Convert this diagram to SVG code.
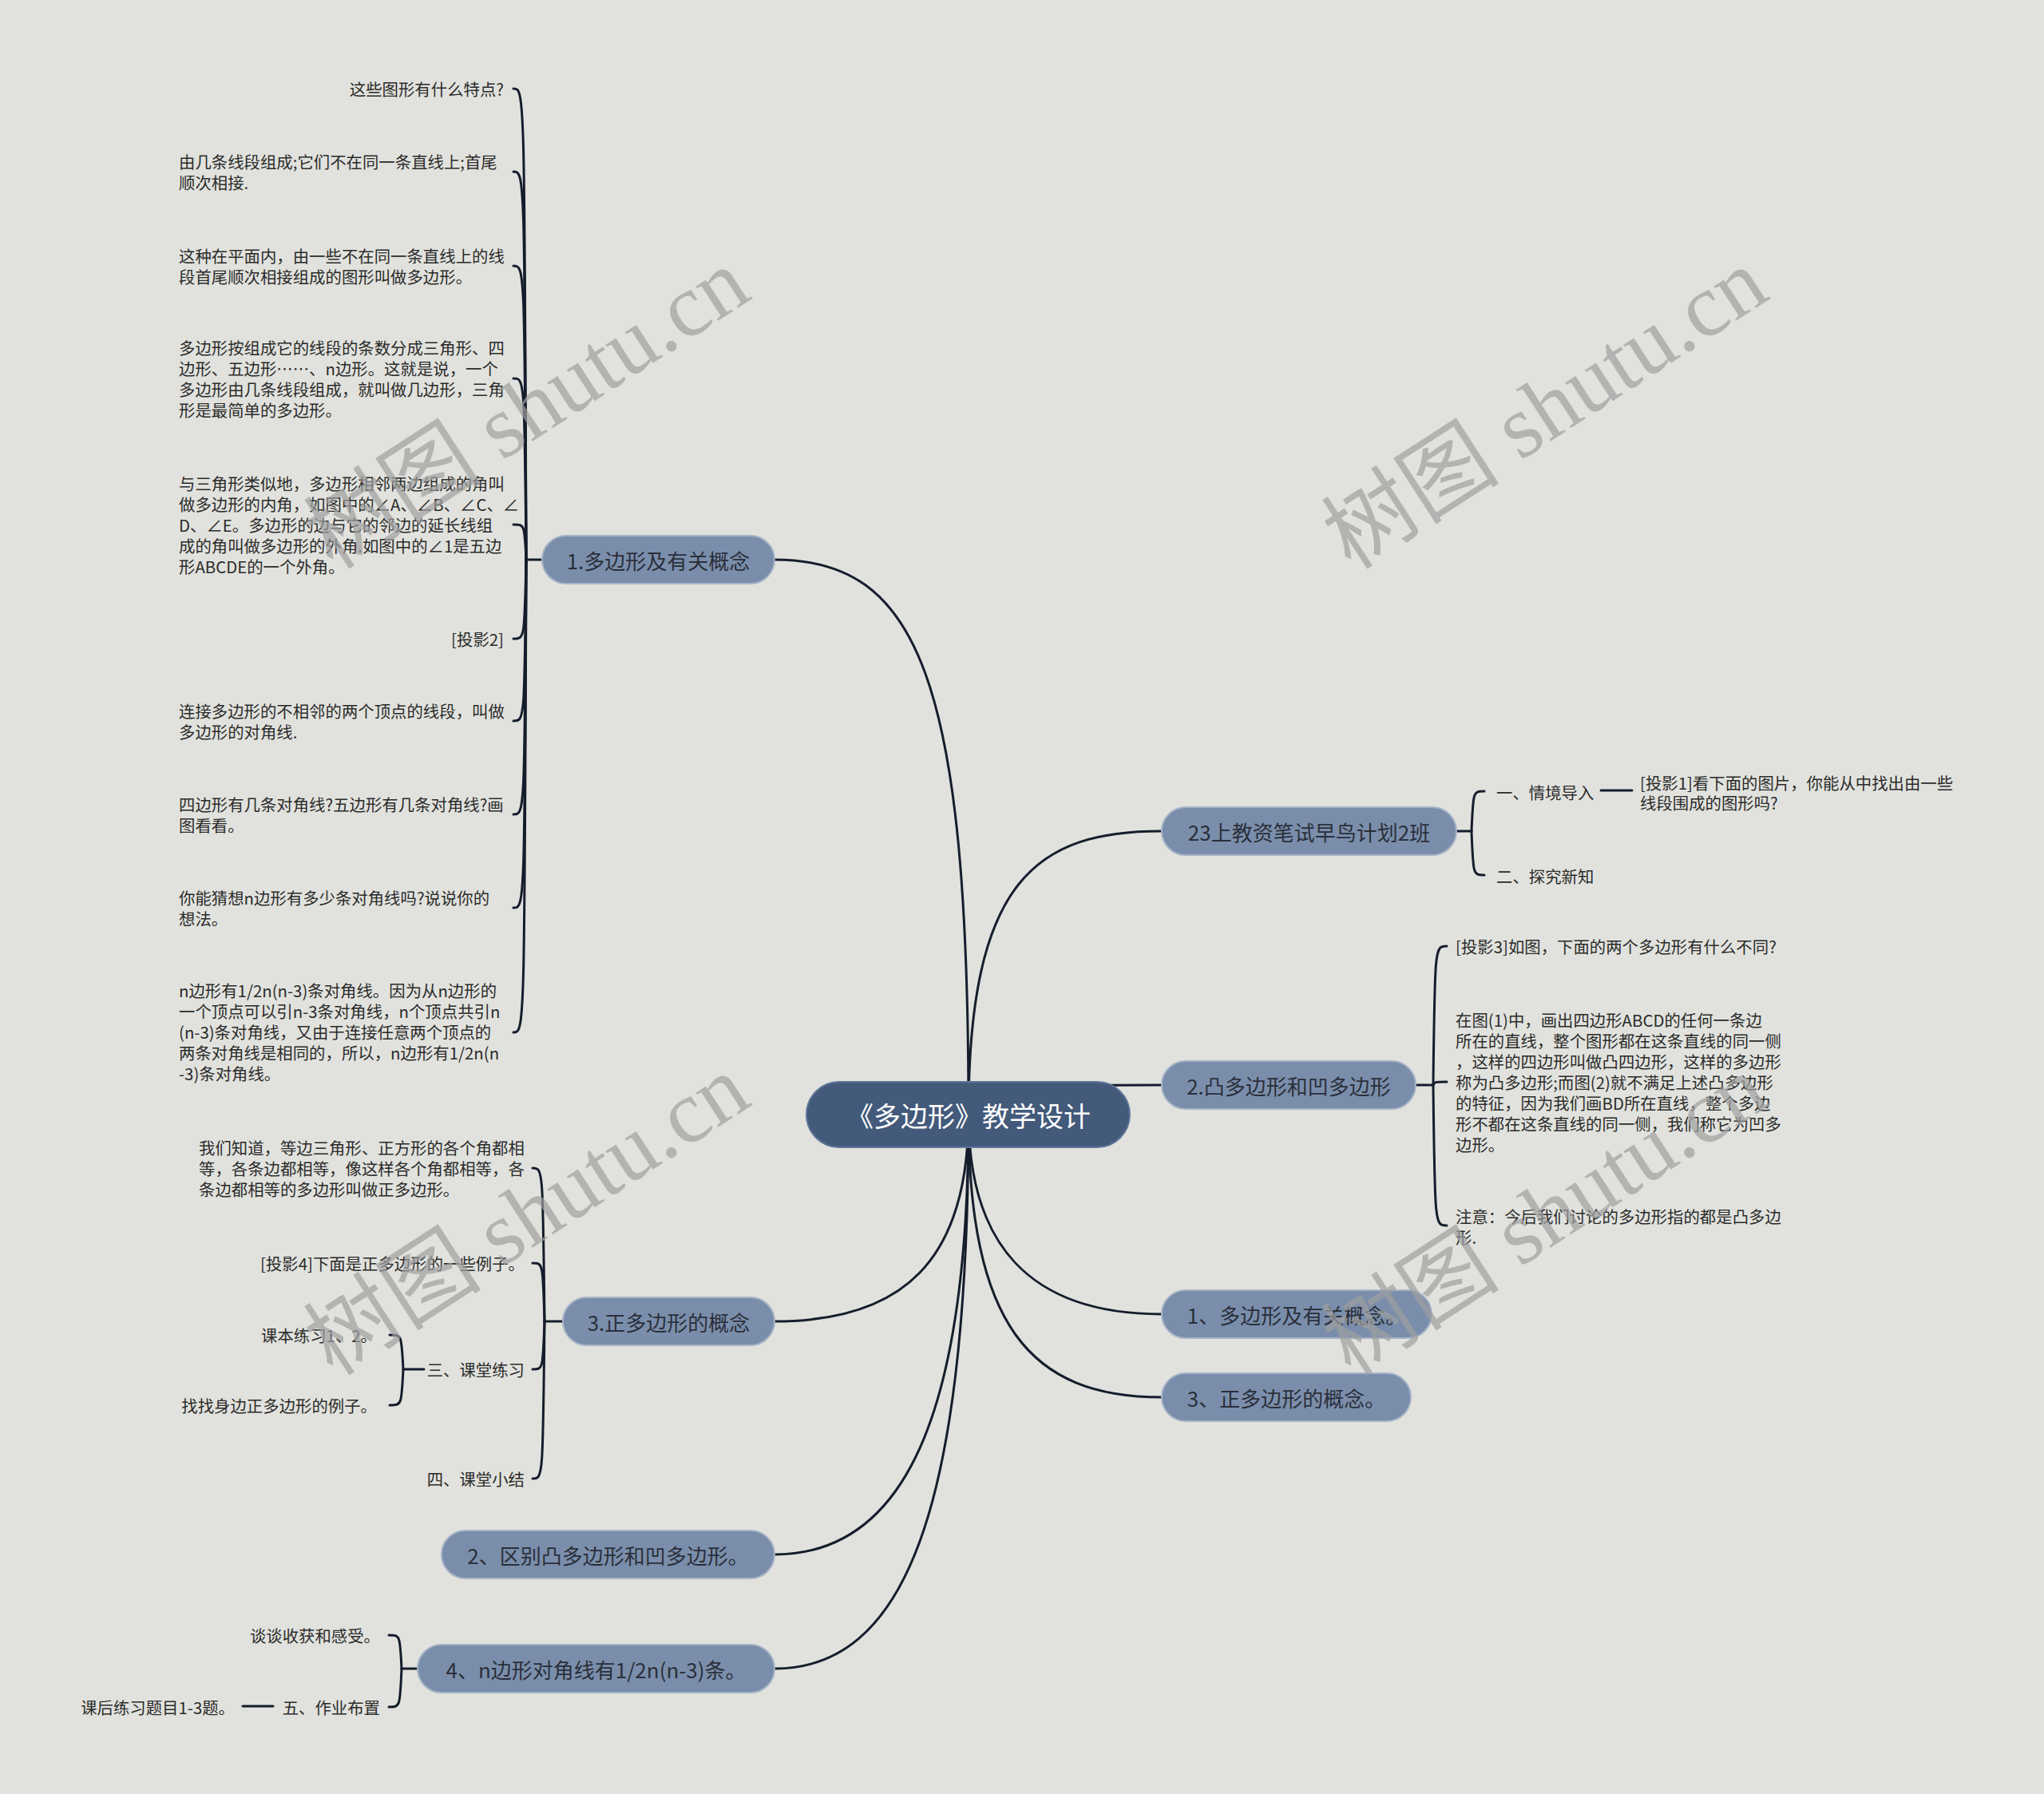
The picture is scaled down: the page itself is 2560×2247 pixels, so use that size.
<svg xmlns="http://www.w3.org/2000/svg" width="2560" height="2247" viewBox="0 0 2560 2247">
<style>
text{font-family:"Noto Sans CJK SC","Noto Sans",sans-serif;dominant-baseline:central}
.ln{fill:none;stroke:#151d2c;stroke-width:3;stroke-linecap:round}
.n1 rect{fill:#7a8eab;stroke:#a6b3c7;stroke-width:2}
.n1 text{font-size:26px;fill:#2a2f3a;text-anchor:middle}
.root rect{fill:#435a7a;stroke:#60759a;stroke-width:2}
.root text{font-size:34px;fill:#ffffff;text-anchor:middle}
.ct{font-size:20.4px;fill:#2b2b2b}
.r{text-anchor:end}
.wm{font-family:"Liberation Serif","Noto Sans CJK SC",serif;font-size:112px;fill:#a0a0a0;opacity:0.7;text-anchor:middle}
</style>
<rect width="2560" height="2247" fill="#e1e2dd"/>
<g id="connectors">
<path class="ln" d="M1213,1396 C1213,850 1150,701 970,701"/>
<path class="ln" d="M1213,1396 C1213,1100 1300,1041 1455,1041"/>
<path class="ln" d="M1213,1396 C1213,1359 1300,1359 1455,1359"/>
<path class="ln" d="M1213,1396 C1213,1560 1290,1646 1455,1646"/>
<path class="ln" d="M1213,1396 C1213,1660 1290,1750 1455,1750"/>
<path class="ln" d="M1213,1396 C1213,1580 1130,1655 970,1655"/>
<path class="ln" d="M1213,1396 C1213,1800 1120,1947 970,1947"/>
<path class="ln" d="M1213,1396 C1213,1900 1130,2090 970,2090"/>
<path class="ln" d="M679,701 L659,701"/>
<path class="ln" d="M659,701 C657,111 657,111 643,111"/>
<path class="ln" d="M659,701 C657,215 657,215 643,215"/>
<path class="ln" d="M659,701 C657,333 657,333 643,333"/>
<path class="ln" d="M659,701 C657,474 657,474 643,474"/>
<path class="ln" d="M659,701 C657,657 657,657 643,657"/>
<path class="ln" d="M659,701 C657,800 657,800 643,800"/>
<path class="ln" d="M659,701 C657,903 657,903 643,903"/>
<path class="ln" d="M659,701 C657,1020 657,1020 643,1020"/>
<path class="ln" d="M659,701 C657,1137 657,1137 643,1137"/>
<path class="ln" d="M659,701 C657,1293 657,1293 643,1293"/>
<path class="ln" d="M705,1655 L682,1655"/>
<path class="ln" d="M682,1655 C680,1463 680,1463 667,1463"/>
<path class="ln" d="M682,1655 C680,1582 680,1582 667,1582"/>
<path class="ln" d="M682,1655 C680,1715 680,1715 667,1715"/>
<path class="ln" d="M682,1655 C680,1852 680,1852 667,1852"/>
<path class="ln" d="M531,1715 L505,1715"/>
<path class="ln" d="M505,1715 C503,1672 503,1672 488,1672"/>
<path class="ln" d="M505,1715 C503,1760 503,1760 488,1760"/>
<path class="ln" d="M523,2090 L503,2090"/>
<path class="ln" d="M503,2090 C501,2048 501,2048 487,2048"/>
<path class="ln" d="M503,2090 C501,2138 501,2138 487,2138"/>
<path class="ln" d="M304,2137 L342,2137"/>
<path class="ln" d="M1824,1041 L1843,1041"/>
<path class="ln" d="M1843,1041 C1845,991 1845,991 1859,991"/>
<path class="ln" d="M1843,1041 C1845,1096 1845,1096 1859,1096"/>
<path class="ln" d="M2005,990 L2044,990"/>
<path class="ln" d="M1773,1359 L1795,1359"/>
<path class="ln" d="M1795,1359 C1797,1185 1797,1185 1812,1185"/>
<path class="ln" d="M1795,1359 C1797,1355 1797,1355 1812,1355"/>
<path class="ln" d="M1795,1359 C1797,1535 1797,1535 1812,1535"/>
</g>
<g id="root" class="root"><rect x="1010" y="1355" width="405" height="82" rx="41"/><text x="1213" y="1396">《多边形》教学设计</text></g>
<g id="n1" class="n1"><rect x="679" y="671" width="291" height="60" rx="30"/><text x="824.5" y="701">1.多边形及有关概念</text></g>
<g id="n2" class="n1"><rect x="1455" y="1011" width="369" height="60" rx="30"/><text x="1639.5" y="1041">23上教资笔试早鸟计划2班</text></g>
<g id="n3" class="n1"><rect x="1455" y="1329" width="318" height="60" rx="30"/><text x="1614" y="1359">2.凸多边形和凹多边形</text></g>
<g id="n4" class="n1"><rect x="1455" y="1616" width="338" height="60" rx="30"/><text x="1624" y="1646">1、多边形及有关概念。</text></g>
<g id="n5" class="n1"><rect x="1455" y="1720" width="312" height="60" rx="30"/><text x="1611" y="1750">3、正多边形的概念。</text></g>
<g id="n6" class="n1"><rect x="705" y="1625" width="265" height="60" rx="30"/><text x="837.5" y="1655">3.正多边形的概念</text></g>
<g id="n7" class="n1"><rect x="553" y="1917" width="417" height="60" rx="30"/><text x="761.5" y="1947">2、区别凸多边形和凹多边形。</text></g>
<g id="n8" class="n1"><rect x="523" y="2060" width="447" height="60" rx="30"/><text x="746.5" y="2090">4、n边形对角线有1/2n(n-3)条。</text></g>
<g id="c1a"><text class="ct r" x="631" y="111">这些图形有什么特点?</text></g>
<g id="c1b"><text class="ct" x="224" y="202">由几条线段组成;它们不在同一条直线上;首尾</text><text class="ct" x="224" y="228">顺次相接.</text></g>
<g id="c1c"><text class="ct" x="224" y="320">这种在平面内，由一些不在同一条直线上的线</text><text class="ct" x="224" y="346">段首尾顺次相接组成的图形叫做多边形。</text></g>
<g id="c1d"><text class="ct" x="224" y="435">多边形按组成它的线段的条数分成三角形、四</text><text class="ct" x="224" y="461">边形、五边形……、n边形。这就是说，一个</text><text class="ct" x="224" y="487">多边形由几条线段组成，就叫做几边形，三角</text><text class="ct" x="224" y="513">形是最简单的多边形。</text></g>
<g id="c1e"><text class="ct" x="224" y="605">与三角形类似地，多边形相邻两边组成的角叫</text><text class="ct" x="224" y="631">做多边形的内角，如图中的∠A、∠B、∠C、∠</text><text class="ct" x="224" y="657">D、∠E。多边形的边与它的邻边的延长线组</text><text class="ct" x="224" y="683">成的角叫做多边形的外角.如图中的∠1是五边</text><text class="ct" x="224" y="709">形ABCDE的一个外角。</text></g>
<g id="c1f"><text class="ct r" x="631" y="800">[投影2]</text></g>
<g id="c1g"><text class="ct" x="224" y="890">连接多边形的不相邻的两个顶点的线段，叫做</text><text class="ct" x="224" y="916">多边形的对角线.</text></g>
<g id="c1h"><text class="ct" x="224" y="1007">四边形有几条对角线?五边形有几条对角线?画</text><text class="ct" x="224" y="1033">图看看。</text></g>
<g id="c1i"><text class="ct" x="224" y="1124">你能猜想n边形有多少条对角线吗?说说你的</text><text class="ct" x="224" y="1150">想法。</text></g>
<g id="c1j"><text class="ct" x="224" y="1240">n边形有1/2n(n-3)条对角线。因为从n边形的</text><text class="ct" x="224" y="1266">一个顶点可以引n-3条对角线，n个顶点共引n</text><text class="ct" x="224" y="1292">(n-3)条对角线，又由于连接任意两个顶点的</text><text class="ct" x="224" y="1318">两条对角线是相同的，所以，n边形有1/2n(n</text><text class="ct" x="224" y="1344">-3)条对角线。</text></g>
<g id="c6a"><text class="ct" x="249" y="1437">我们知道，等边三角形、正方形的各个角都相</text><text class="ct" x="249" y="1463">等，各条边都相等，像这样各个角都相等，各</text><text class="ct" x="249" y="1489">条边都相等的多边形叫做正多边形。</text></g>
<g id="c6b"><text class="ct r" x="657" y="1582">[投影4]下面是正多边形的一些例子。</text></g>
<g id="c6c"><text class="ct r" x="657" y="1715">三、课堂练习</text></g>
<g id="c6c1"><text class="ct r" x="472" y="1672">课本练习1、2。</text></g>
<g id="c6c2"><text class="ct r" x="472" y="1760">找找身边正多边形的例子。</text></g>
<g id="c6d"><text class="ct r" x="657" y="1852">四、课堂小结</text></g>
<g id="c8a"><text class="ct r" x="476" y="2048">谈谈收获和感受。</text></g>
<g id="c8b"><text class="ct r" x="476" y="2138">五、作业布置</text></g>
<g id="c8b1"><text class="ct r" x="294" y="2138">课后练习题目1-3题。</text></g>
<g id="c2a"><text class="ct" x="1874" y="992">一、情境导入</text></g>
<g id="c2a1"><text class="ct" x="2054" y="980">[投影1]看下面的图片，你能从中找出由一些</text><text class="ct" x="2054" y="1005">线段围成的图形吗?</text></g>
<g id="c2b"><text class="ct" x="1874" y="1097">二、探究新知</text></g>
<g id="c3a"><text class="ct" x="1823" y="1185">[投影3]如图，下面的两个多边形有什么不同?</text></g>
<g id="c3b"><text class="ct" x="1823" y="1277">在图(1)中，画出四边形ABCD的任何一条边</text><text class="ct" x="1823" y="1303">所在的直线，整个图形都在这条直线的同一侧</text><text class="ct" x="1823" y="1329">，这样的四边形叫做凸四边形，这样的多边形</text><text class="ct" x="1823" y="1355">称为凸多边形;而图(2)就不满足上述凸多边形</text><text class="ct" x="1823" y="1381">的特征，因为我们画BD所在直线，整个多边</text><text class="ct" x="1823" y="1407">形不都在这条直线的同一侧，我们称它为凹多</text><text class="ct" x="1823" y="1433">边形。</text></g>
<g id="c3c"><text class="ct" x="1823" y="1523">注意：今后我们讨论的多边形指的都是凸多边</text><text class="ct" x="1823" y="1549">形.</text></g>
<g id="watermark">
<text class="wm" transform="translate(660,512) rotate(-33)">树图 shutu.cn</text>
<text class="wm" transform="translate(1935,512) rotate(-33)">树图 shutu.cn</text>
<text class="wm" transform="translate(660,1522) rotate(-33)">树图 shutu.cn</text>
<text class="wm" transform="translate(1935,1522) rotate(-33)">树图 shutu.cn</text>
</g>
</svg>
